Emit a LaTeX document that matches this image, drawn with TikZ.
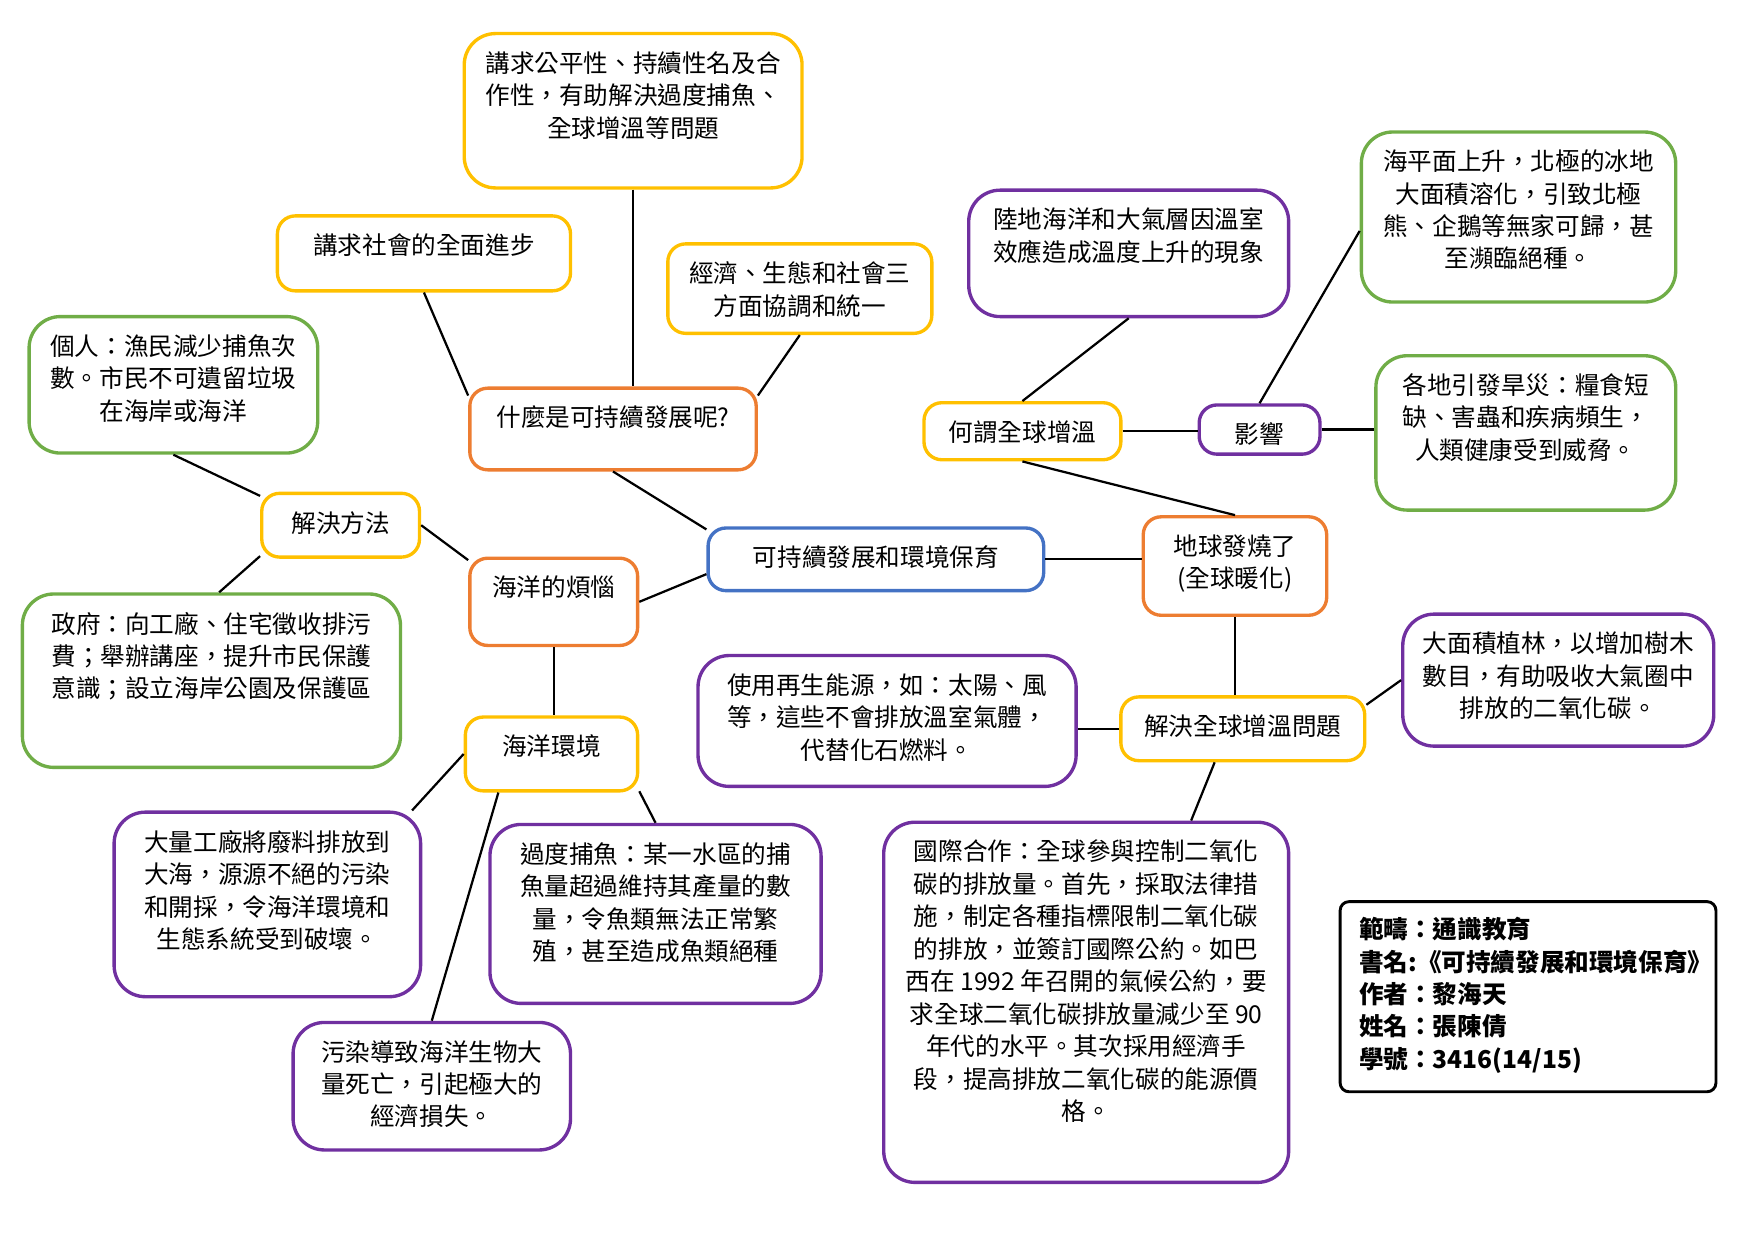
\documentclass[tikz,border=0pt]{standalone}
\usepackage{fontspec}
\setmainfont{Noto Sans CJK TC}

\definecolor{mmyellow}{HTML}{FFC000}
\definecolor{mmorange}{HTML}{ED7D31}
\definecolor{mmblue}{HTML}{4472C4}
\definecolor{mmgreen}{HTML}{70AD47}
\definecolor{mmpurple}{HTML}{7030A0}

% Breite, Hoehe (pt), Text oben im Kasten
\newcommand{\boxtext}[3]{\parbox[c][#2pt][t]{#1pt}{\centering\vspace*{8pt}#3}}

\begin{document}
\begin{tikzpicture}[x=0.5pt, y=-0.5pt,
    mmbox/.style={draw=#1, line width=1.5pt, rounded corners=8pt, inner sep=0pt,
                  font=\fontsize{11pt}{14.5pt}\selectfont},
    mmbig/.style={mmbox=#1, rounded corners=14pt},
    conn/.style={line width=1pt, black}]

  \useasboundingbox (0,0) rectangle (1568,1109);

  % --- Mitte ---
  \node[mmbox=mmblue] (C) at (783,500) {\boxtext{150}{28}{可持續發展和環境保育}};

  % --- Was ist nachhaltige Entwicklung ---
  \node[mmbox=mmorange] (W)  at (548,383.5) {\boxtext{128}{36.5}{什麼是可持續發展呢?}};
  \node[mmbig=mmyellow] (A1) at (566,99)    {\boxtext{151}{69}{講求公平性、持續性名及合\\作性，有助解決過度捕魚、\\全球增溫等問題}};
  \node[mmbox=mmyellow] (A2) at (379,226.5) {\boxtext{131}{33.5}{講求社會的全面進步}};
  \node[mmbox=mmyellow] (A3) at (715,258)   {\boxtext{118}{40}{經濟、生態和社會三\\方面協調和統一}};

  % --- Meer ---
  \node[mmbox=mmorange] (O)  at (495,538)   {\boxtext{75}{39}{海洋的煩惱}};
  \node[mmbox=mmyellow] (S)  at (304.5,469.5) {\boxtext{70.5}{28.5}{解決方法}};
  \node[mmbig=mmgreen]  (P1) at (155,344)   {\boxtext{129}{61}{個人：漁民減少捕魚次\\數。市民不可遺留垃圾\\在海岸或海洋}};
  \node[mmbig=mmgreen]  (P2) at (189,608.5) {\boxtext{169}{77.5}{政府：向工廠、住宅徵收排污\\費；舉辦講座，提升市民保護\\意識；設立海岸公園及保護區}};
  \node[mmbox=mmyellow] (E)  at (493,674)   {\boxtext{77}{33}{海洋環境}};
  \node[mmbig=mmpurple] (E1) at (239,808.5) {\boxtext{137}{82.5}{大量工廠將廢料排放到\\大海，源源不絕的污染\\和開採，令海洋環境和\\生態系統受到破壞。}};
  \node[mmbig=mmpurple] (E2) at (586,817)   {\boxtext{148}{80}{過度捕魚：某一水區的捕\\魚量超過維持其產量的數\\量，令魚類無法正常繁\\殖，甚至造成魚類絕種}};
  \node[mmbig=mmpurple] (E3) at (386,971)   {\boxtext{124}{57}{污染導致海洋生物大\\量死亡，引起極大的\\經濟損失。}};

  % --- Erderwaermung ---
  \node[mmbox=mmorange] (G)  at (1104,506)  {\boxtext{82}{44}{地球發燒了\\(全球暖化)}};
  \node[mmbox=mmyellow] (H)  at (914,385.5) {\boxtext{88}{25.5}{何謂全球增溫}};
  \node[mmbig=mmpurple] (H1) at (1009,226.5) {\boxtext{143}{56.5}{陸地海洋和大氣層因溫室\\效應造成溫度上升的現象}};
  \node[mmbox=mmpurple] (I)  at (1126,384)  {\boxtext{54}{22}{影響}};
  \node[mmbig=mmgreen]  (I1) at (1357.5,194) {\boxtext{140.5}{76}{海平面上升，北極的冰地\\大面積溶化，引致北極\\熊、企鵝等無家可歸，甚\\至瀕臨絕種。}};
  \node[mmbig=mmgreen]  (I2) at (1364,387)  {\boxtext{134}{69}{各地引發旱災：糧食短\\缺、害蟲和疾病頻生，\\人類健康受到威脅。}};
  \node[mmbox=mmyellow] (R)  at (1111,651.5) {\boxtext{109}{28.5}{解決全球增溫問題}};
  \node[mmbig=mmpurple] (R1) at (793,644.5) {\boxtext{169}{58.5}{使用再生能源，如：太陽、風\\等，這些不會排放溫室氣體，\\代替化石燃料。}};
  \node[mmbig=mmpurple] (R2) at (1393,608)  {\boxtext{139}{59}{大面積植林，以增加樹木\\數目，有助吸收大氣圈中\\排放的二氧化碳。}};
  \node[mmbig=mmpurple] (R3) at (971,896)   {\boxtext{181}{161}{國際合作：全球參與控制二氧化\\碳的排放量。首先，採取法律措\\施，制定各種指標限制二氧化碳\\的排放，並簽訂國際公約。如巴\\西在 1992 年召開的氣候公約，要\\求全球二氧化碳排放量減少至 90\\年代的水平。其次採用經濟手\\段，提高排放二氧化碳的能源價\\格。}};

  % --- Angaben ---
  \node[draw=black, line width=1.3pt, rounded corners=4pt, inner sep=0pt,
        font=\fontsize{11pt}{14.5pt}\selectfont\bfseries] (N) at (1366,891)
    {\parbox[c][85pt][t]{168pt}{\raggedright\leftskip=8.5pt\vspace*{7pt}%
      範疇：通識教育\\書名:《可持續發展和環境保育》\\作者：黎海天\\姓名：張陳倩\\學號：3416(14/15)}};

  % --- Verbindungen ---
  \draw[conn] (A1.south) -- (A1.south |- W.north);
  \draw[conn] (A2.south) -- (W.167);
  \draw[conn] (A3.south) -- (W.13);
  \draw[conn] (W.south) -- (C.170);
  \draw[conn] (C.185) -- (O.east);
  \draw[conn] (S.east) -- (O.154);
  \draw[conn] (S.160) -- (P1.south);
  \draw[conn] (S.201) -- (P2.85);
  \draw[conn] (O.south) -- (O.south |- E.north);
  \draw[conn] (E.west) -- (E1.33);
  \draw[conn] (E.216) -- (E3.north);
  \draw[conn] (E.-23) -- (E2.north);
  \draw[conn] (C.east) -- (C.east -| G.west);
  \draw[conn] (H.south) -- (G.north);
  \draw[conn] (H.north) -- (H1.south);
  \draw[conn] (H.east) -- (H.east -| I.west);
  \draw[conn] (I.east) -- (I.east -| I2.west);
  \draw[conn] (I.north) -- (I1.185);
  \draw[conn] (G.south) -- (G.south |- R.north);
  \draw[conn] (R.west) -- (R.west -| R1.east);
  \draw[conn] (R.11) -- (R2.west);
  \draw[conn] (R.230) -- (R3.60);

\end{tikzpicture}
\end{document}
